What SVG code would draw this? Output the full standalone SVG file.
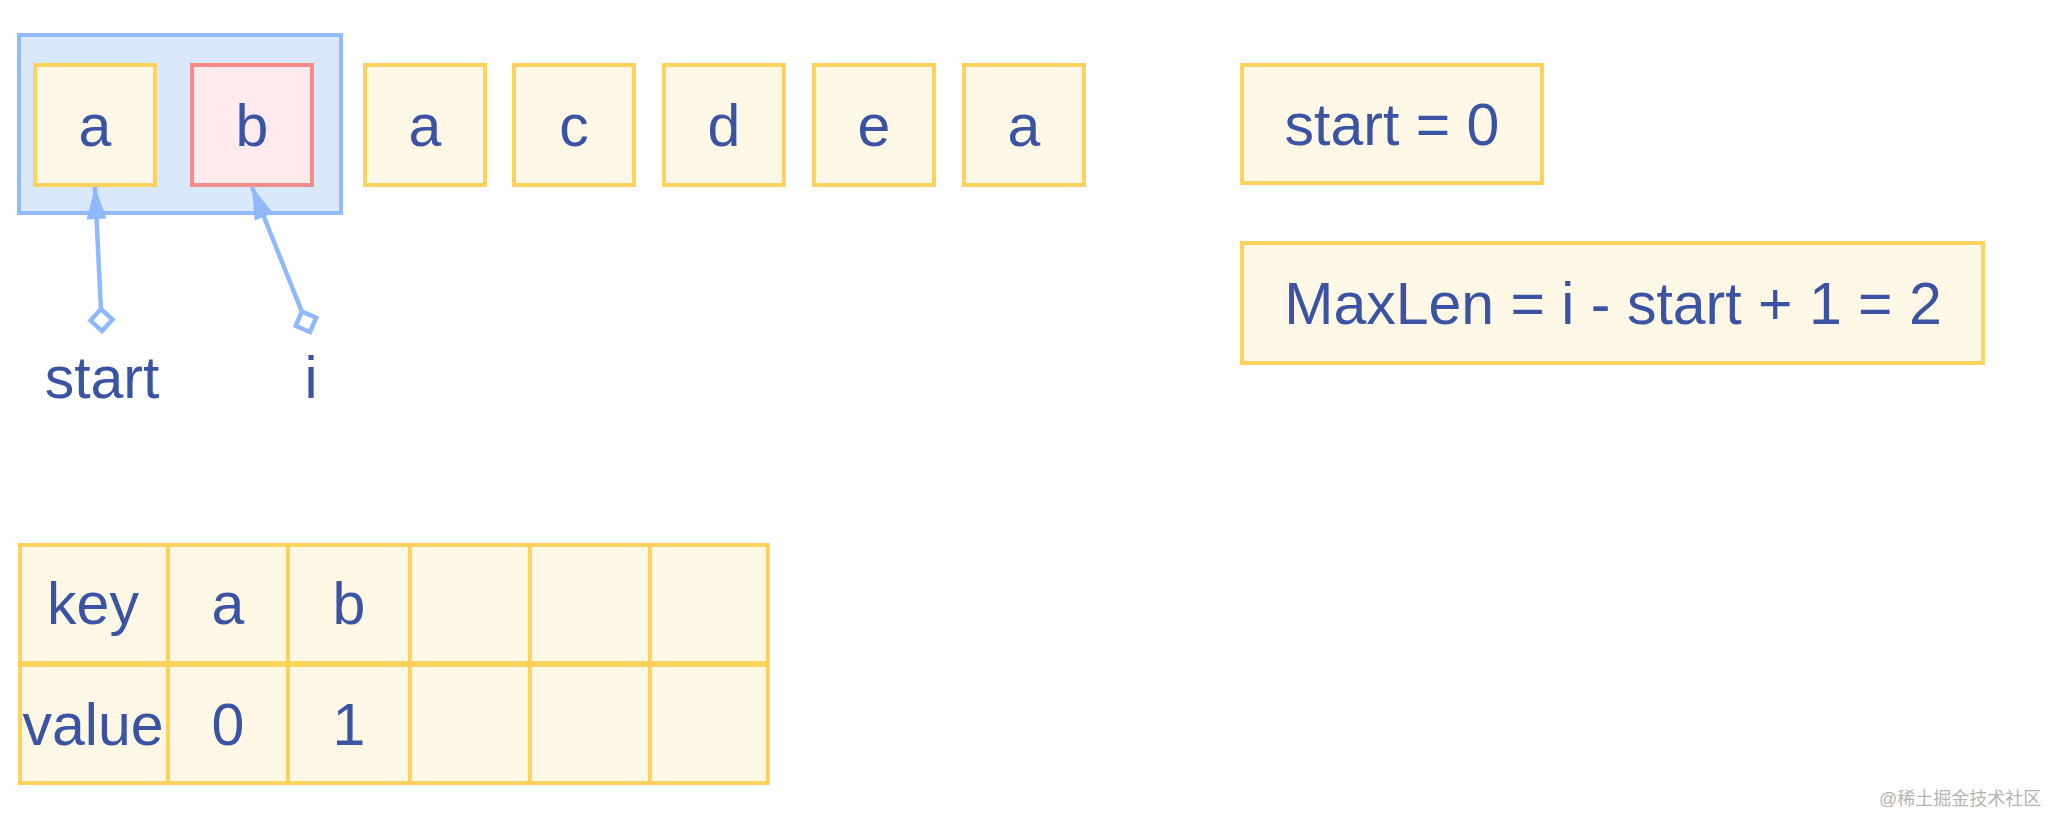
<svg xmlns="http://www.w3.org/2000/svg" width="2046" height="816" viewBox="0 0 2046 816">
<style>
.cell{fill:#fff8e7;stroke:#ffd25e;stroke-width:4}
.red{fill:#ffebee;stroke:#f88a8a;stroke-width:4}
.grp{fill:#dae8fc;stroke:#92bbff;stroke-width:4}
.t{font-family:"Liberation Sans",Arial,Helvetica,sans-serif;font-size:59px;fill:#3a53a3;text-anchor:middle}
.conn{fill:none;stroke:#8fb8ff;stroke-width:4.5}
.wm{font-family:"Liberation Sans","Noto Sans CJK SC",sans-serif;font-size:18px;fill:#b4b4b4}
</style>
<defs>
<marker id="arr" markerUnits="userSpaceOnUse" markerWidth="40" markerHeight="40" refX="32" refY="0" orient="auto" overflow="visible">
<path d="M0,-10 L32,0 L0,10 Z" fill="#8fb8ff"/>
</marker>
<marker id="dia" markerUnits="userSpaceOnUse" markerWidth="40" markerHeight="40" refX="0" refY="0" orient="auto" overflow="visible">
<path d="M0,0 L11,-11 L22,0 L11,11 Z" fill="#fff" stroke="#8fb8ff" stroke-width="4.5"/>
</marker>
</defs>
<g id="window">
<rect class="grp" x="19" y="35" width="322" height="178"/>
</g>
<g id="n0"><rect class="cell" x="35" y="65" width="120" height="120"/><text class="t" x="95" y="146">a</text></g>
<g id="n1"><rect class="red" x="192" y="65" width="120" height="120"/><text class="t" x="252" y="146">b</text></g>
<g id="n2"><rect class="cell" x="365" y="65" width="120" height="120"/><text class="t" x="425" y="146">a</text></g>
<g id="n3"><rect class="cell" x="514" y="65" width="120" height="120"/><text class="t" x="574" y="146">c</text></g>
<g id="n4"><rect class="cell" x="664" y="65" width="120" height="120"/><text class="t" x="724" y="146">d</text></g>
<g id="n5"><rect class="cell" x="814" y="65" width="120" height="120"/><text class="t" x="874" y="146">e</text></g>
<g id="n6"><rect class="cell" x="964" y="65" width="120" height="120"/><text class="t" x="1024" y="146">a</text></g>
<g id="startBox"><rect class="cell" x="1242" y="65" width="300" height="118"/><text class="t" x="1392" y="145">start = 0</text></g>
<g id="maxLenBox"><rect class="cell" x="1242" y="243" width="741" height="120"/><text class="t" x="1613" y="324">MaxLen = i - start + 1 = 2</text></g>
<g id="startLabel"><text class="t" x="102" y="398">start</text></g>
<g id="iLabel"><text class="t" x="311" y="398">i</text></g>
<g id="table">
<rect class="cell" x="20" y="545" width="148" height="118"/>
<rect class="cell" x="168" y="545" width="120" height="118"/>
<rect class="cell" x="288" y="545" width="122" height="118"/>
<rect class="cell" x="410" y="545" width="120" height="118"/>
<rect class="cell" x="530" y="545" width="120" height="118"/>
<rect class="cell" x="650" y="545" width="118" height="118"/>
<rect class="cell" x="20" y="665" width="148" height="118"/>
<rect class="cell" x="168" y="665" width="120" height="118"/>
<rect class="cell" x="288" y="665" width="122" height="118"/>
<rect class="cell" x="410" y="665" width="120" height="118"/>
<rect class="cell" x="530" y="665" width="120" height="118"/>
<rect class="cell" x="650" y="665" width="118" height="118"/>
<text class="t" x="93" y="624">key</text>
<text class="t" x="228" y="624">a</text>
<text class="t" x="349" y="624">b</text>
<text class="t" x="93" y="745">value</text>
<text class="t" x="228" y="745">0</text>
<text class="t" x="349" y="745">1</text>
</g>
<g id="connectors">
<path class="conn" d="M102,331 L95,187" marker-start="url(#dia)" marker-end="url(#arr)"/>
<path class="conn" d="M310,332 L252,187" marker-start="url(#dia)" marker-end="url(#arr)"/>
</g>
<text class="wm" x="1879" y="805">@稀土掘金技术社区</text>
</svg>
